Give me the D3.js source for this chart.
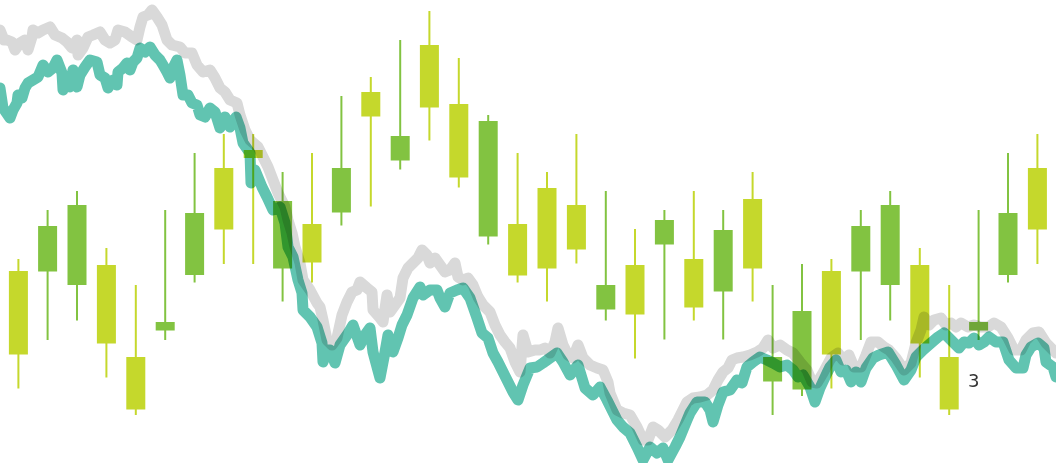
<!DOCTYPE html>
<html lang="en">
<head>
<meta charset="utf-8">
<title>candles and lines</title>
<script src="https://cdn.jsdelivr.net/npm/d3@7"></script>
<style>
body { margin: 0; background: #fff; }
svg { display: block; background: #fff; isolation: isolate; }
.mark { mix-blend-mode: multiply; }
.label { font-family: "DejaVu Sans", sans-serif; font-size: 18px; fill: #333; }
</style>
</head>
<body>
<script>
var w = 1056;
var h = 463;

// candle times (hours) and prices
var candleTime = [9.2, 23.8, 38.5, 53.2, 67.9, 82.6, 97.3, 111.9, 126.6, 141.3,
  156.0, 170.7, 185.4, 200.1, 214.7, 229.4, 244.1, 258.8, 273.5, 288.2,
  302.9, 317.5, 332.2, 346.9, 361.6, 376.3, 386.3, 401.0, 415.7, 430.4,
  445.1, 459.9, 474.6, 489.3, 504.0, 518.7];
var candleOpen = [45.8, 45.7, 43.0, 47.0, 28.6, 33.9, 45.0, 66.4, 70.0, 46.3,
  55.2, 57.5, 81.6, 67.9, 91.0, 79.2, 52.7, 55.2, 62.4, 59.0,
  38.1, 47.0, 51.1, 48.2, 41.7, 60.2, 23.7, 22.1, 45.8, 45.7,
  43.0, 47.0, 28.6, 33.9, 45.0, 66.4];
var candleClose = [29.1, 54.8, 59.0, 31.3, 18.1, 35.6, 57.4, 54.1, 68.4, 59.8,
  47.5, 66.4, 76.7, 72.8, 78.5, 64.5, 75.8, 44.9, 46.3, 50.1,
  43.0, 37.1, 56.0, 38.5, 54.0, 46.3, 28.6, 37.8, 29.1, 54.8,
  59.0, 31.3, 18.1, 35.6, 57.4, 54.1];
var candleHigh = [48.2, 58.0, 61.8, 50.4, 43.0, 58.0, 69.4, 73.2, 73.2, 65.6,
  69.4, 80.8, 84.6, 92.0, 97.8, 88.4, 77.0, 69.4, 65.6, 73.2,
  61.8, 54.2, 58.0, 61.8, 58.0, 65.6, 43.0, 47.2, 48.2, 58.0,
  61.8, 50.4, 43.0, 58.0, 69.4, 73.2];
var candleLow = [22.3, 32.0, 35.9, 24.5, 17.0, 32.0, 43.5, 47.2, 47.2, 39.7,
  43.5, 54.9, 58.7, 66.1, 71.9, 62.5, 51.1, 43.5, 39.7, 47.3,
  35.9, 28.3, 32.1, 35.9, 32.1, 39.7, 17.0, 20.8, 22.3, 32.0,
  35.9, 24.5, 17.0, 32.0, 43.5, 47.2];

// [time, value]
var greyLine = [[0,94],[2,92],[3.5,92],[6,91.6],[7.5,90],[10,91.4],[12.5,92],[14,90],[16,92.6],[16.5,94],
  [19,93.4],[21.5,94],[25,94.6],[27.5,93],[31,92.4],[33.5,91.6],[36,90.4],[38.5,92],[39,89],[41.5,90.4],
  [44,92.6],[46.5,93],[50,93.6],[52.5,92],[55,91.4],[57.5,92],[59,94],[62.5,93.6],[66,92.6],[68.5,92],
  [70,94.6],[71.5,96.6],[74,97],[76,98],[78.5,96.6],[81,95],[83.5,92],[86,91],[90,90.6],[92.5,89.4],
  [96,89.4],[98.5,87],[101.5,85.6],[105,86],[107.5,84.4],[110,82.4],[112.5,81.6],[115,80],[118.5,79.4],[120,77],
  [122.5,74],[125,72],[129,70.6],[131.5,68.6],[134,66.6],[136.5,64],[139,61.4],[142.5,58.6],[144,56],[146,53.4],
  [147.5,50.6],[150,47.4],[151.5,44],[155,42],[158.5,39.4],[160,38.6],[161.5,36],[163.5,32],[166,31],[168.5,32.4],
  [171,37],[173.5,39.6],[176,41.6],[178.5,42],[180,43.6],[183.5,42.4],[186,41.6],[186.5,38],[190,36.4],[191.5,35.6],
  [193.5,41],[195,37.6],[197.5,39],[200,40.4],[201.5,44.4],[204,46.4],[206.5,47.4],[209,48.4],[211,50],[213.5,49],
  [215,47.4],[217.5,48.4],[220,47],[222.5,45.6],[225,46],[227.5,47.4],[229,44.6],[231.5,44],[234,44.4],[236.5,43],
  [239,40.6],[241.5,39],[245,37.6],[247.5,35],[250,33],[252.5,31.6],[255,30.4],[257.5,27.6],[260,25.6],[261.5,33],
  [264,29.6],[267.5,30],[270,30],[272.5,30.4],[275,29.4],[277.5,31.6],[279,34.4],[281.5,31],[284,29],[286.5,28.4],
  [289,31],[291.5,28.4],[295,27],[298.5,26.4],[301.5,26],[304,23.6],[305,21.4],[308.5,18],[311.5,17.4],[315,17],
  [318.5,14.6],[321.5,12],[324,12],[326.5,14.6],[329,14],[332.5,12.6],[336,14],[339,16],[343.5,19.6],[346.5,20.4],
  [350,20.6],[353.5,21],[356.5,22],[359,24],[361.5,25.6],[364,26.4],[366,28],[368.5,28.4],[371.5,28.6],[375,29],
  [378.5,29.6],[381.5,30.4],[384,32],[386.5,30.4],[390,31],[393.5,30],[396.5,29.4],[400,27.6],[403.5,26],[406,23.6],
  [408.5,23.4],[411.5,25.4],[415.5,28.4],[419,29.4],[421.5,28],[424.5,29],[427,26.6],[430.5,26.6],[433,29],[435.5,31.6],
  [439,31.6],[442,30.6],[444.5,30],[448,28.4],[452,26],[455.5,27.4],[458,31.4],[460.5,34],[462,36.6],[464.5,35],
  [467,36],[470.5,36.4],[473,35],[475.5,35.4],[478,34.6],[480.5,35.4],[484,34.6],[487,35],[490.5,34.6],[494,34.6],
  [497,35.4],[500.5,34.6],[504,32.4],[507,30],[510.5,30],[513,32],[516.5,33.4],[519.5,33.6],[523,31.4],[526.5,30],
  [528,29.4]];

var tealLine = [[0,82.4],[1.5,78.4],[5,76.4],[6.5,78],[8.5,79.4],[9,81],[11,80.4],[12.5,82.4],[14,83.4],[16.5,84],
  [19,84.6],[21.5,87],[24,85.6],[26.5,86.4],[28.5,88],[31,85.4],[31.5,82],[33.5,84],[35,82.6],[36.5,86],
  [38.5,82.6],[40,85],[42.5,86.6],[45,88],[48.5,87.6],[50,85],[52.5,84.4],[54,82.4],[56.5,84],[58.5,83],
  [59,85.6],[61.5,86.4],[63.5,87.4],[65,86],[66.5,87.6],[68.5,88.4],[70,90.4],[72.5,89.6],[75,90.6],[77.5,89],
  [80,88],[81.5,87],[83.5,85.6],[85,84.4],[86.5,86.4],[88.5,88],[90,85],[91.5,81],[94,81],[96,79.4],
  [98.5,79],[100,77],[102.5,76.6],[105,78.4],[107.5,77.6],[110,74.4],[112.5,76.6],[115,74.6],[118,76.6],[120,74.4],
  [121.5,71.4],[125,69.4],[125.5,63.4],[127.5,66],[131,62.6],[133.5,60.6],[136.5,58],[140,58.6],[142.5,55.4],[144,50.6],
  [146.5,48.6],[149,44],[151,41.4],[151.5,38],[155,36.6],[158.5,34.6],[161,31.4],[161.5,27.6],[163.5,30],[165,30],
  [167.5,27.4],[170,31],[173.5,33],[176.5,35],[180,31],[182.5,33],[185,34.4],[186.5,29.6],[190,24.4],[192.5,29.6],
  [194,33],[196.5,29.6],[199,32.4],[201,35],[203.5,37],[206.5,40.4],[210,42.6],[211.5,41],[215,42],[218.5,42],
  [220,40.4],[222.5,38.6],[225,41.4],[228.5,42],[231.5,42.4],[235,40.4],[238.5,36.4],[241,33.4],[244,32.4],[246.5,29.4],
  [249,27.6],[251.5,25.6],[254,23.6],[256.5,21.6],[259,20],[261.5,23],[265,26.4],[268.5,26.6],[271.5,27.4],[275,28.4],
  [278.5,29.4],[281.5,27.6],[285,25],[289,27],[292.5,22.4],[296.5,21],[300,22.6],[303.5,20],[308.5,16],[311.5,14.6],
  [315,13.4],[318.5,10.6],[321.5,8],[325,10.6],[328.5,9.4],[331.5,10.4],[334,8],[337.5,10.6],[340,12.6],[343.5,16],
  [345,17.4],[348.5,19.6],[352.5,19.6],[355,18],[356.5,15.6],[359,19],[361.5,21.6],[365,22],[368.5,24],[371,23.4],
  [373.5,26.6],[376.5,27.6],[380,28.6],[383.5,28],[386.5,27.4],[390,26.6],[393.5,27],[396.5,26],[399,24.6],[401.5,25],
  [405,22.6],[407.5,19.6],[410,22.4],[413.5,25.4],[415,26.6],[418,28],[420.5,25.6],[423,26],[425.5,23.6],[428,25.6],
  [430.5,23.6],[433,26.4],[436.5,28.4],[439.5,29],[444,29.6],[448,27],[452,24],[455.5,26],[458,28.6],[461.5,30],
  [465.5,31.4],[469,32.6],[472,33.4],[474.5,32.4],[477,31.4],[479.5,30.4],[482,31.6],[484.5,31.4],[487,32.4],[489.5,31],
  [492,31.6],[494.5,32.6],[498,31.6],[501.5,31.6],[504.5,28],[508,26.4],[511.5,26.4],[513,29],[515.5,30.6],[519,31.4],
  [522,30.4],[523,27.6],[526.5,26.6],[528,24.6]];

var labelText = ["3"];
var labelTime = [484];
var labelValue = [22.6];

var candles = candleTime.map(function(t, i) {
  return { t: t, open: candleOpen[i], close: candleClose[i], high: candleHigh[i], low: candleLow[i] };
});

var xScale = d3.scaleLinear().domain([0, 528]).range([0, w]);
var yScale = d3.scaleLinear().domain([7.4, 100]).range([h, 0]);

var upColor = "#82c341";
var downColor = "#c5d82c";
var bodyW = 19;

var svg = d3.select("body")
  .append("svg")
  .attr("width", w)
  .attr("height", h);

var line = d3.line()
  .x(function(d) { return xScale(d[0]); })
  .y(function(d) { return yScale(d[1]); });

svg.append("path")
  .datum(greyLine)
  .attr("class", "mark")
  .attr("d", line)
  .attr("fill", "none")
  .attr("stroke", "#d9d9d9")
  .attr("stroke-width", 11)
  .attr("stroke-linejoin", "round")
  .attr("stroke-linecap", "round");

svg.append("path")
  .datum(tealLine)
  .attr("class", "mark")
  .attr("d", line)
  .attr("fill", "none")
  .attr("stroke", "#61c4b1")
  .attr("stroke-width", 11)
  .attr("stroke-linejoin", "round")
  .attr("stroke-linecap", "round");

// blend each candle as one piece so the wick does not darken its body
var g = svg.selectAll("g.candle")
  .data(candles)
  .enter()
  .append("g")
  .attr("class", "candle mark");

g.append("line")
  .attr("x1", function(d) { return xScale(d.t); })
  .attr("x2", function(d) { return xScale(d.t); })
  .attr("y1", function(d) { return yScale(d.high); })
  .attr("y2", function(d) { return yScale(d.low); })
  .attr("stroke", function(d) { return d.close > d.open ? upColor : downColor; })
  .attr("stroke-width", 2);

g.append("rect")
  .attr("x", function(d) { return xScale(d.t) - bodyW / 2; })
  .attr("y", function(d) { return yScale(Math.max(d.open, d.close)); })
  .attr("width", bodyW)
  .attr("height", function(d) { return Math.abs(yScale(d.open) - yScale(d.close)); })
  .attr("fill", function(d) { return d.close > d.open ? upColor : downColor; });

svg.selectAll("text.label")
  .data(labelText)
  .enter()
  .append("text")
  .attr("class", "label")
  .attr("x", function(d, i) { return xScale(labelTime[i]); })
  .attr("y", function(d, i) { return yScale(labelValue[i]); })
  .text(function(d) { return d; });
</script>
</body>
</html>
